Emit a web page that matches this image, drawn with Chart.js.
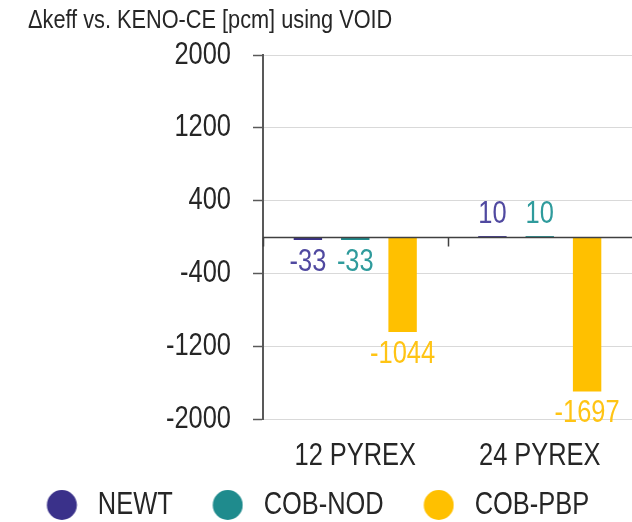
<!DOCTYPE html>
<html>
<head>
<meta charset="utf-8">
<script src="https://cdn.jsdelivr.net/npm/chart.js@4.4.1/dist/chart.umd.min.js"></script>
<style>
  html, body { margin: 0; padding: 0; background: #ffffff; overflow: hidden; }
  #wrap { position: relative; width: 632px; height: 522px; }
</style>
</head>
<body>
<div id="wrap"><canvas id="c" width="632" height="522"></canvas></div>
<script>
const titleText = 'Δkeff vs. KENO-CE [pcm] using VOID';
const categories = ['12 PYREX', '24 PYREX'];
const seriesNames = ['NEWT', 'COB-NOD', 'COB-PBP'];
const newtValues = [-33, 10];
const cobNodValues = [-33, 10];
const cobPbpValues = [-1044, -1697];
const yTicks = [-2000, -1200, -400, 400, 1200, 2000];

const colors = ['#3A318A', '#1F8B8D', '#FFC000'];
const labelColors = ['#5049A0', '#2F9B9C', '#FFC414'];
const FONT = '"Liberation Sans", Arial, sans-serif';
const SX = 0.82; // narrow glyph rendering, as in the original

const canvas = document.getElementById('c');
const ctx2d = canvas.getContext('2d');
const nativeFill = ctx2d.fillText.bind(ctx2d);
const nativeMeasure = ctx2d.measureText.bind(ctx2d);
ctx2d.fillText = function (t, x, y, mw) {
  this.save();
  this.translate(x, y);
  this.scale(SX, 1);
  if (mw !== undefined && mw !== null) nativeFill(t, 0, 0, mw / SX); else nativeFill(t, 0, 0);
  this.restore();
};
ctx2d.measureText = function (t) {
  const m = nativeMeasure(t);
  return {
    width: m.width * SX,
    actualBoundingBoxAscent: m.actualBoundingBoxAscent,
    actualBoundingBoxDescent: m.actualBoundingBoxDescent,
    actualBoundingBoxLeft: m.actualBoundingBoxLeft * SX,
    actualBoundingBoxRight: m.actualBoundingBoxRight * SX
  };
};

function markerImage(color) {
  const c = document.createElement('canvas');
  c.width = 56; c.height = 32;
  const g = c.getContext('2d');
  g.fillStyle = color;
  g.beginPath();
  g.arc(40.25, 16, 15, 0, Math.PI * 2);
  g.fill();
  return c;
}
const markers = colors.map(markerImage);

const titleDraw = {
  id: 'titleDraw',
  afterDraw(chart) {
    const ctx = chart.ctx;
    ctx.save();
    ctx.font = '26.5px ' + FONT;
    ctx.fillStyle = '#262626';
    ctx.textAlign = 'left';
    ctx.textBaseline = 'middle';
    ctx.fillText(titleText, 28, 21);
    ctx.restore();
  }
};

const valueLabels = {
  id: 'valueLabels',
  afterDatasetsDraw(chart) {
    const ctx = chart.ctx;
    ctx.save();
    ctx.font = '31px ' + FONT;
    ctx.textAlign = 'center';
    ctx.textBaseline = 'middle';
    chart.data.datasets.forEach((ds, i) => {
      const meta = chart.getDatasetMeta(i);
      meta.data.forEach((bar, j) => {
        const v = ds.data[j];
        ctx.fillStyle = labelColors[i];
        const y = v < 0 ? bar.y + 22 : bar.y - 22;
        ctx.fillText(String(v), bar.x, y);
      });
    });
    ctx.restore();
  }
};

const zeroLine = {
  id: 'zeroLine',
  afterDatasetsDraw(chart) {
    const ctx = chart.ctx;
    const ys = chart.scales.y;
    const xs = chart.scales.x;
    const y0 = Math.round(ys.getPixelForValue(0)) + 0.5;
    const area = chart.chartArea;
    ctx.save();
    ctx.strokeStyle = '#404040';
    ctx.lineWidth = 1.5;
    ctx.beginPath();
    ctx.moveTo(area.left, y0);
    ctx.lineTo(area.right, y0);
    const n = categories.length;
    for (let k = 0; k < n - 1; k++) {
      const a = xs.getPixelForValue(k), b = xs.getPixelForValue(k + 1);
      const px = Math.round((a + b) / 2) + 0.5;
      ctx.moveTo(px, y0);
      ctx.lineTo(px, y0 + 9);
    }
    ctx.moveTo(area.left + 0.5, y0);
    ctx.lineTo(area.left + 0.5, y0 + 9);
    ctx.stroke();
    ctx.restore();
  }
};

new Chart(canvas, {
  type: 'bar',
  data: {
    labels: categories,
    datasets: [
      { label: seriesNames[0], data: newtValues, backgroundColor: colors[0] },
      { label: seriesNames[1], data: cobNodValues, backgroundColor: colors[1] },
      { label: seriesNames[2], data: cobPbpValues, backgroundColor: colors[2] }
    ]
  },
  options: {
    responsive: false,
    animation: false,
    devicePixelRatio: 1,
    layout: { padding: { left: -26, right: 0, top: 55, bottom: -8.5 } },
    datasets: { bar: { categoryPercentage: 0.77, barPercentage: 0.6 } },
    scales: {
      x: {
        grid: { display: false },
        border: { display: false },
        afterFit(scale) { scale.height = 60.5; },
        ticks: { color: '#262626', font: { family: FONT, size: 31 }, padding: 10.4, maxRotation: 0, autoSkip: false }
      },
      y: {
        min: -2000, max: 2000,
        afterBuildTicks(scale) { scale.ticks = yTicks.map(v => ({ value: v })); },
        afterFit(scale) { scale.width = 289; },
        grid: { color: '#d9d9d9', lineWidth: 1, tickColor: '#595959', tickLength: 10, tickWidth: 1.5 },
        border: { display: true, color: '#595959', width: 2 },
        ticks: { color: '#262626', font: { family: FONT, size: 31 }, padding: 22, callback: v => String(v) }
      }
    },
    plugins: {
      title: { display: false },
      legend: {
        position: 'bottom',
        labels: {
          usePointStyle: true, pointStyleWidth: 65.5, boxHeight: 31,
          color: '#262626', font: { family: FONT, size: 31 }, padding: 10,
          generateLabels(chart) {
            const items = Chart.defaults.plugins.legend.labels.generateLabels(chart);
            items.forEach((it, i) => { it.pointStyle = markers[i]; });
            return items;
          }
        }
      },
      tooltip: { enabled: false }
    }
  },
  plugins: [valueLabels, zeroLine, titleDraw]
});
</script>
</body>
</html>
